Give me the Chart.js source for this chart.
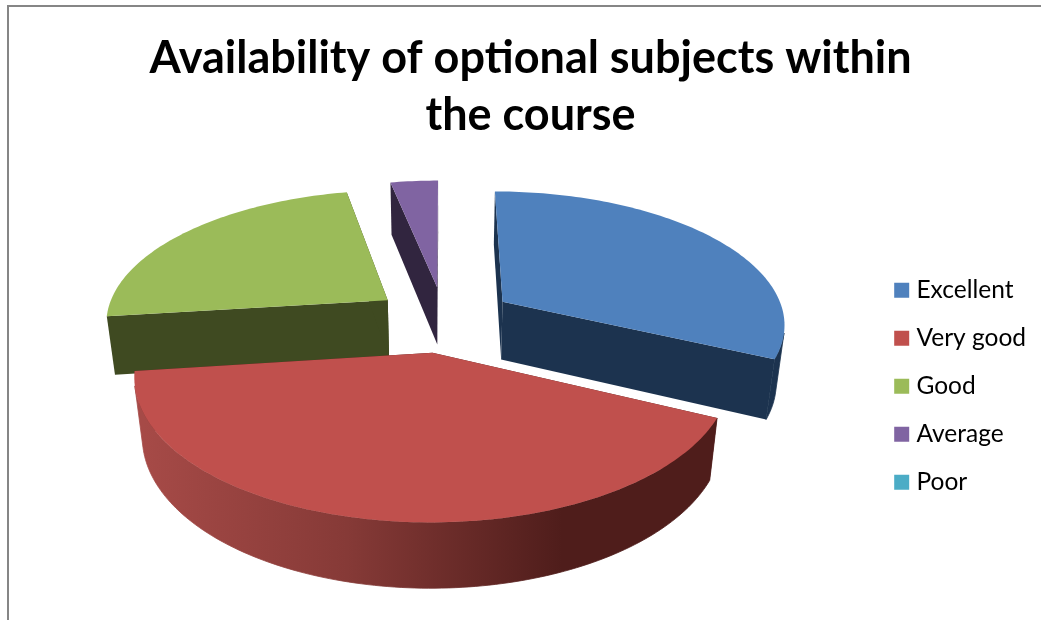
<!DOCTYPE html>
<html>
<head>
<meta charset="utf-8">
<title>Availability of optional subjects within the course</title>
<script src="https://cdn.jsdelivr.net/npm/chart.js@4"></script>
<style>
  html, body { margin: 0; background: #fff; overflow: hidden; }
  #frame {
    position: absolute; left: 7px; top: 5px; width: 1032px; height: 613px;
    border-left: 2px solid #868686; border-top: 2px solid #868686;
  }
  canvas { display: block; }
</style>
</head>
<body>
<div id="frame"><canvas id="myChart" width="1032" height="613"></canvas></div>
<script>
var titleLines = ['Availability of optional subjects within', 'the course'];
var categories = ['Excellent', 'Very good', 'Good', 'Average', 'Poor'];
var values = [32, 41, 23.8, 3.2, 0];
var colors = ['#4F81BD', '#C0504D', '#9BBB59', '#8064A2', '#4BACC6'];
var sideColors = ['#1C334F', '#4F1D1B', '#3F4A21', '#31253F', '#1D4A55'];

// perspective of the tilted pie, fitted by eye against the picture
var view = { cx: 435, cy: 312, a: 283, b: 132, h: 60, p: 0.153, q: 0.025, explode: 0.25 };

function project(u, v, z) {
  var w = 1 - view.p * v + view.q * z;
  return { x: view.cx + view.a * u / w, y: view.cy + (view.b * v + view.h * z) / w };
}

function tracePoints(ctx, pts) {
  ctx.beginPath();
  pts.forEach(function (pt, i) {
    if (i === 0) ctx.moveTo(pt.x, pt.y); else ctx.lineTo(pt.x, pt.y);
  });
  ctx.closePath();
}

function rim(start, end, ou, ov, z) {
  var pts = [];
  var n = Math.max(2, Math.ceil((end - start) / 0.02));
  for (var i = 0; i <= n; i++) {
    var t = start + (end - start) * i / n;
    pts.push(project(ou + Math.cos(t), ov + Math.sin(t), z));
  }
  return pts;
}

function drawSlice(ctx, arc, index) {
  var start = arc.startAngle, end = arc.endAngle;
  var mid = (start + end) / 2;
  var ou = view.explode * Math.cos(mid), ov = view.explode * Math.sin(mid);
  var side = sideColors[index];

  // the two cut faces
  [start, end].forEach(function (t) {
    var edgeU = ou + Math.cos(t), edgeV = ov + Math.sin(t);
    tracePoints(ctx, [project(ou, ov, 0), project(edgeU, edgeV, 0), project(edgeU, edgeV, 1), project(ou, ov, 1)]);
    ctx.fillStyle = side;
    ctx.fill();
  });

  // outer wall: only the run of the rim that faces the viewer
  var top = rim(start, end, ou, ov, 0);
  var bottom = rim(start, end, ou, ov, 1);
  var first = -1, last = -1;
  for (var i = 0; i < top.length - 1; i++) {
    var dx = top[i + 1].x - top[i].x, dy = top[i + 1].y - top[i].y;
    var ex = bottom[i].x - top[i].x, ey = bottom[i].y - top[i].y;
    if (dx * ey - dy * ex > 0) continue;
    if (first < 0) first = i;
    last = i + 1;
  }
  if (first >= 0) {
    var fill = side;
    if (index === 1) {
      fill = ctx.createLinearGradient(view.cx - 300, 0, view.cx + 280, 0);
      fill.addColorStop(0, '#A64A47');
      fill.addColorStop(0.35, '#863A37');
      fill.addColorStop(0.72, '#4F1D1B');
      fill.addColorStop(1, '#4F1D1B');
    }
    tracePoints(ctx, top.slice(first, last + 1).concat(bottom.slice(first, last + 1).reverse()));
    ctx.fillStyle = fill;
    ctx.strokeStyle = fill;
    ctx.lineWidth = 0.8;
    ctx.fill();
    ctx.stroke(); // hides the seam against the cut face
  }

  // top face
  tracePoints(ctx, [project(ou, ov, 0)].concat(top));
  ctx.fillStyle = colors[index];
  ctx.fill();
}

var pie3d = {
  id: 'pie3d',
  beforeDatasetsDraw: function (chart) {
    var ctx = chart.ctx;
    var arcs = chart.getDatasetMeta(0).data;
    var order = arcs.map(function (arc, i) { return i; }).filter(function (i) { return values[i] > 0; });
    order.sort(function (i, j) {
      return Math.sin((arcs[i].startAngle + arcs[i].endAngle) / 2) - Math.sin((arcs[j].startAngle + arcs[j].endAngle) / 2);
    });
    ctx.save();
    order.forEach(function (i) { drawSlice(ctx, arcs[i], i); });
    ctx.restore();
    return false;
  }
};

new Chart(document.getElementById('myChart'), {
  type: 'pie',
  data: {
    labels: categories,
    datasets: [{ data: values, backgroundColor: colors, borderWidth: 0 }]
  },
  plugins: [pie3d],
  options: {
    responsive: false,
    animation: false,
    layout: { padding: { left: 16, right: 5, top: 23, bottom: 102 } },
    plugins: {
      title: {
        display: true,
        text: titleLines,
        color: '#000',
        font: { family: 'Lato', size: 45, weight: 'bold', lineHeight: 1.267 },
        padding: { top: 0, bottom: 24 }
      },
      legend: {
        position: 'right',
        align: 'end',
        labels: {
          color: '#000',
          font: { family: 'Lato', size: 24.5 },
          boxWidth: 5,
          boxHeight: 5,
          padding: 23.5,
          // thick same-colour outline: keeps the square 15px but closer to its text
          generateLabels: function (chart) {
            return Chart.overrides.pie.plugins.legend.labels.generateLabels(chart).map(function (item) {
              item.lineWidth = 10;
              item.strokeStyle = item.fillStyle;
              item.lineJoin = 'miter';
              return item;
            });
          }
        }
      },
      tooltip: { enabled: false }
    }
  }
});
</script>
</body>
</html>
